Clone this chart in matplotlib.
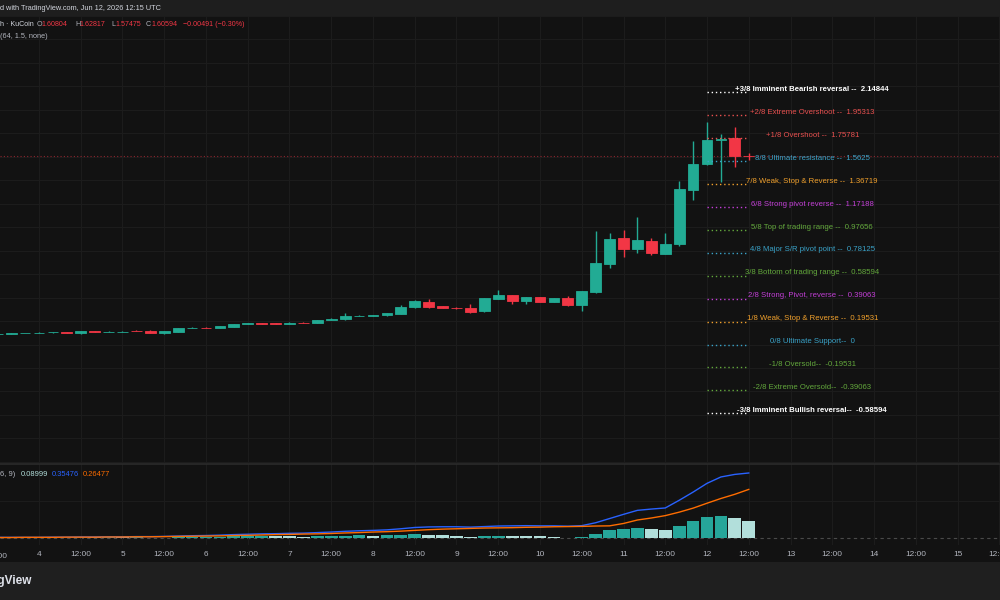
import matplotlib
matplotlib.use("Agg")
import matplotlib.pyplot as plt
from matplotlib.patches import Rectangle
from matplotlib.lines import Line2D
from matplotlib import font_manager as fm
import numpy as np

# ---------------- data ----------------
first_candle_day = 3.5          # 4h candles, day units (day 3, 12:00)
candle_step = 1 / 6
opens = [0.090,0.094,0.097,0.099,0.104,0.103,0.096,0.112,0.106,0.108,0.118,0.119,0.096,0.108,0.140,0.144,0.142,0.153,0.178,0.183,0.182,0.173,0.186,0.184,0.207,0.215,0.242,0.245,0.249,0.261,0.317,0.363,0.326,0.314,0.311,0.283,0.390,0.422,0.374,0.402,0.366,0.393,0.338,0.444,0.685,0.911,0.813,0.886,0.773,0.855,1.314,1.535,1.745,1.760,1.60804]
highs = [0.094,0.099,0.102,0.103,0.110,0.105,0.116,0.114,0.112,0.113,0.120,0.121,0.115,0.142,0.146,0.146,0.158,0.179,0.184,0.185,0.184,0.189,0.188,0.212,0.224,0.266,0.249,0.253,0.272,0.340,0.382,0.385,0.329,0.316,0.346,0.396,0.465,0.425,0.405,0.404,0.400,0.416,0.456,0.968,0.951,0.974,1.087,0.906,0.951,1.392,1.738,1.893,1.798,1.851,1.62817]
lows = [0.088,0.092,0.095,0.097,0.102,0.098,0.094,0.105,0.104,0.106,0.112,0.100,0.094,0.106,0.138,0.138,0.140,0.151,0.176,0.177,0.176,0.171,0.181,0.182,0.205,0.213,0.240,0.243,0.247,0.259,0.315,0.312,0.310,0.306,0.266,0.281,0.388,0.346,0.346,0.361,0.364,0.329,0.285,0.440,0.652,0.747,0.784,0.762,0.770,0.841,1.231,1.530,1.384,1.514,1.57475]
closes = [0.092,0.097,0.100,0.101,0.108,0.100,0.113,0.107,0.110,0.111,0.114,0.102,0.113,0.139,0.144,0.140,0.156,0.176,0.182,0.179,0.178,0.187,0.183,0.210,0.221,0.244,0.247,0.250,0.269,0.323,0.368,0.323,0.312,0.308,0.278,0.393,0.425,0.374,0.402,0.363,0.397,0.338,0.453,0.697,0.903,0.813,0.892,0.779,0.858,1.322,1.540,1.747,1.750,1.611,1.60594]

macd_line = [0.002,0.002,0.002,0.002,0.003,0.003,0.004,0.004,0.005,0.005,0.006,0.006,0.007,0.009,0.011,0.012,0.014,0.017,0.019,0.021,0.022,0.024,0.025,0.028,0.031,0.035,0.038,0.040,0.043,0.049,0.056,0.059,0.060,0.060,0.058,0.061,0.064,0.065,0.066,0.065,0.065,0.063,0.066,0.082,0.105,0.128,0.150,0.157,0.163,0.205,0.250,0.298,0.333,0.347,0.35476]
signal_line = [0.001,0.001,0.002,0.002,0.002,0.003,0.003,0.003,0.004,0.004,0.005,0.005,0.006,0.007,0.008,0.009,0.010,0.012,0.013,0.015,0.017,0.018,0.020,0.021,0.023,0.026,0.028,0.031,0.033,0.036,0.040,0.044,0.047,0.049,0.051,0.053,0.054,0.055,0.057,0.058,0.060,0.061,0.062,0.064,0.065,0.078,0.097,0.108,0.121,0.140,0.162,0.189,0.215,0.238,0.26477]
histogram = [-0.003,-0.002,-0.001,0.002,0.001,0.001,0.003,0.002,0.003,0.002,0.002,0.001,0.001,0.003,0.004,0.005,0.006,0.008,0.009,0.010,0.008,0.007,0.006,0.008,0.010,0.012,0.013,0.012,0.013,0.016,0.020,0.017,0.014,0.011,0.004,0.008,0.012,0.011,0.010,0.007,0.004,-0.001,0.003,0.020,0.042,0.050,0.053,0.046,0.040,0.066,0.090,0.113,0.121,0.108,0.08999]

level_values = [2.14844, 1.95313, 1.75781, 1.5625, 1.36719, 1.17188, 0.97656, 0.78125,
                0.58594, 0.39063, 0.19531, 0.0, -0.19531, -0.39063, -0.58594]
level_labels = ["+3/8 Imminent Bearish reversal --  2.14844",
                "+2/8 Extreme Overshoot --  1.95313",
                "+1/8 Overshoot --  1.75781",
                "8/8 Ultimate resistance --  1.5625",
                "7/8 Weak, Stop & Reverse --  1.36719",
                "6/8 Strong pivot reverse --  1.17188",
                "5/8 Top of trading range --  0.97656",
                "4/8 Major S/R pivot point --  0.78125",
                "3/8 Bottom of trading range --  0.58594",
                "2/8 Strong, Pivot, reverse --  0.39063",
                "1/8 Weak, Stop & Reverse --  0.19531",
                "0/8 Ultimate Support--  0",
                "-1/8 Oversold--  -0.19531",
                "-2/8 Extreme Oversold--  -0.39063",
                "-3/8 Imminent Bullish reversal--  -0.58594"]
level_colors = ["#ffffff", "#e8504f", "#e8504f", "#3aa3c9", "#f0a02c", "#c23fd6",
                "#63a83c", "#3aa3c9", "#63a83c", "#c23fd6", "#f0a02c", "#3aa3c9",
                "#63a83c", "#63a83c", "#ffffff"]

day_ticks = [4, 4.5, 5, 5.5, 6, 6.5, 7, 7.5, 8, 8.5, 9, 9.5, 10, 10.5, 11, 11.5,
             12, 12.5, 13, 13.5, 14, 14.5, 15, 15.5]
day_tick_labels = ["4", "12:00", "5", "12:00", "6", "12:00", "7", "12:00", "8", "12:00",
                   "9", "12:00", "10", "12:00", "11", "12:00", "12", "12:00", "13",
                   "12:00", "14", "12:00", "15", "12:00"]
last_close = 1.60594

# ---------------- style ----------------
names = {f.name for f in fm.fontManager.ttflist}
if "Liberation Sans Narrow" in names:
    FONT = ["Liberation Sans Narrow", "DejaVu Sans"]
    fs_scale = 1.0
else:
    FONT = ["Liberation Sans", "DejaVu Sans"]
    fs_scale = 0.85
plt.rcParams["font.family"] = FONT

BG = "#121212"
GRID = "#1c1c1c"
UP = "#22ab94"
DOWN = "#f23645"
TXT = "#d1d4dc"
GRAY = "#b2b5be"

W, H = 1000, 600
fig = plt.figure(figsize=(10, 6), dpi=100, facecolor=BG)

def fx(px):
    return px / W

def fy(py):
    return 1 - py / H

# header and footer strips
fig.patches.append(Rectangle((0, fy(16)), 1, 16 / H, transform=fig.transFigure,
                             facecolor="#1e1e1e", edgecolor="none", zorder=0))
fig.patches.append(Rectangle((0, 0), 1, 38 / H, transform=fig.transFigure,
                             facecolor="#1f1f1f", edgecolor="none", zorder=0))

# ---- main price pane ----
xl = (4 - 39 / 83.5, 4 + 961 / 83.5)
ax = fig.add_axes([0, fy(463), 1, (463 - 16) / H])
ax.set_facecolor(BG)
ax.set_xlim(*xl)
ppu = 117.8
ax.set_ylim(1.5625 - (463 - 160) / ppu, 1.5625 + (160 - 16) / ppu)
ax.set_xticks(day_ticks)
ax.set_yticks(np.arange(-1.0, 2.81, 0.2))
ax.grid(True, color=GRID, linewidth=0.8)
ax.tick_params(length=0, labelbottom=False, labelleft=False)
for s in ax.spines.values():
    s.set_visible(False)

n = len(opens)
xs = first_candle_day + np.arange(n) * candle_step
body_w = 0.128
for x, o, h, l, c in zip(xs, opens, highs, lows, closes):
    col = UP if c >= o else DOWN
    ax.vlines(x, l, h, color=col, linewidth=1.0, zorder=3)
    ax.add_patch(Rectangle((x - body_w / 2, min(o, c)), body_w, abs(c - o),
                           facecolor=col, edgecolor=col, linewidth=0.6, zorder=4))

# current price line
ax.axhline(last_close, color=DOWN, linewidth=0.8, linestyle=(0, (1, 2)), alpha=0.55, zorder=2)

# Murrey math levels
lx0, lx1 = 12.0, 12.48
label_x = 13.26
for v, lab, col in zip(level_values, level_labels, level_colors):
    ax.plot([lx0, lx1], [v, v], color=col, linewidth=1.0, linestyle=(0, (1, 2)), zorder=5)
    bold = lab.startswith("+3/8") or lab.startswith("-3/8")
    ax.annotate(lab, (label_x, v), xytext=(0, 1), textcoords="offset points",
                ha="center", va="baseline", color=col, fontsize=6.6 * fs_scale,
                fontweight="bold" if bold else "normal", zorder=6)

# ---- MACD pane ----
mppu = 182.4
ax2 = fig.add_axes([0, fy(545), 1, (545 - 464) / H])
ax2.set_facecolor(BG)
ax2.set_xlim(*xl)
ax2.set_ylim(-(545 - 537.7) / mppu, (537.7 - 464) / mppu)
ax2.set_xticks(day_ticks)
ax2.set_xticklabels(day_tick_labels)
ax2.set_yticks([0.2])
ax2.grid(True, color=GRID, linewidth=0.8)
ax2.tick_params(axis="x", length=0, pad=4, labelsize=7.0 * fs_scale, labelcolor=GRAY)
ax2.tick_params(axis="y", length=0, labelleft=False)
for s in ax2.spines.values():
    s.set_visible(False)
ax2.axhline(0, color="#4a4a4a", linewidth=0.8, linestyle=(0, (3, 3)), zorder=1)

hcols = []
prev = 0.0
for v in histogram:
    if v >= 0:
        hcols.append("#26a69a" if v >= prev else "#b2dfdb")
    else:
        hcols.append("#ffcdd2" if v >= prev else "#ff5252")
    prev = v
ax2.bar(xs, histogram, width=0.92 * candle_step, color=hcols, linewidth=0, zorder=2)
ax2.plot(xs, macd_line, color="#2962ff", linewidth=1.0, zorder=3)
ax2.plot(xs, signal_line, color="#ff6d00", linewidth=1.0, zorder=3)

# pane separator
fig.add_artist(Line2D([0, 1], [fy(464), fy(464)], transform=fig.transFigure,
                      color="#2b2b2b", linewidth=1.2))

# left-cut time label
ax2.text(3.5, -0.1, "12:00", transform=ax2.get_xaxis_transform(), ha="center", va="top",
         fontsize=7.0 * fs_scale, color=GRAY)

# ---- texts ----
fig.text(fx(0), fy(8), "d with TradingView.com, Jun 12, 2026 12:15 UTC", ha="left",
         va="center", color=TXT, fontsize=6.3 * fs_scale)

row_y = fy(25)
pieces = [(0, "h · KuCoin", TXT), (37, "O", GRAY), (41, "1.60804", DOWN),
          (75, "H", GRAY), (80, "1.62817", DOWN), (111, "L", GRAY),
          (115, "1.57475", DOWN), (146, "C", GRAY), (151, "1.60594", DOWN),
          (183, "−0.00491 (−0.30%)", DOWN)]
for px, t, c in pieces:
    fig.text(fx(px), row_y, t, ha="left", va="center", color=c, fontsize=6.0 * fs_scale)
fig.text(fx(0), fy(37), "(64, 1.5, none)", ha="left", va="center", color=GRAY,
         fontsize=6.2 * fs_scale)

mrow = fy(474)
for px, t, c in [(0, "6, 9)", GRAY), (21, "0.08999", "#b2dfdb"),
                 (52, "0.35476", "#2962ff"), (83, "0.26477", "#ff6d00")]:
    fig.text(fx(px), mrow, t, ha="left", va="center", color=c, fontsize=6.4 * fs_scale)

fig.text(fx(32), fy(581), "TradingView", ha="right", va="center", color="#e0e3eb",
         fontsize=8.5, fontweight="bold", family=["Liberation Sans", "DejaVu Sans"])

fig.savefig("out.png", dpi=100, facecolor=BG)
